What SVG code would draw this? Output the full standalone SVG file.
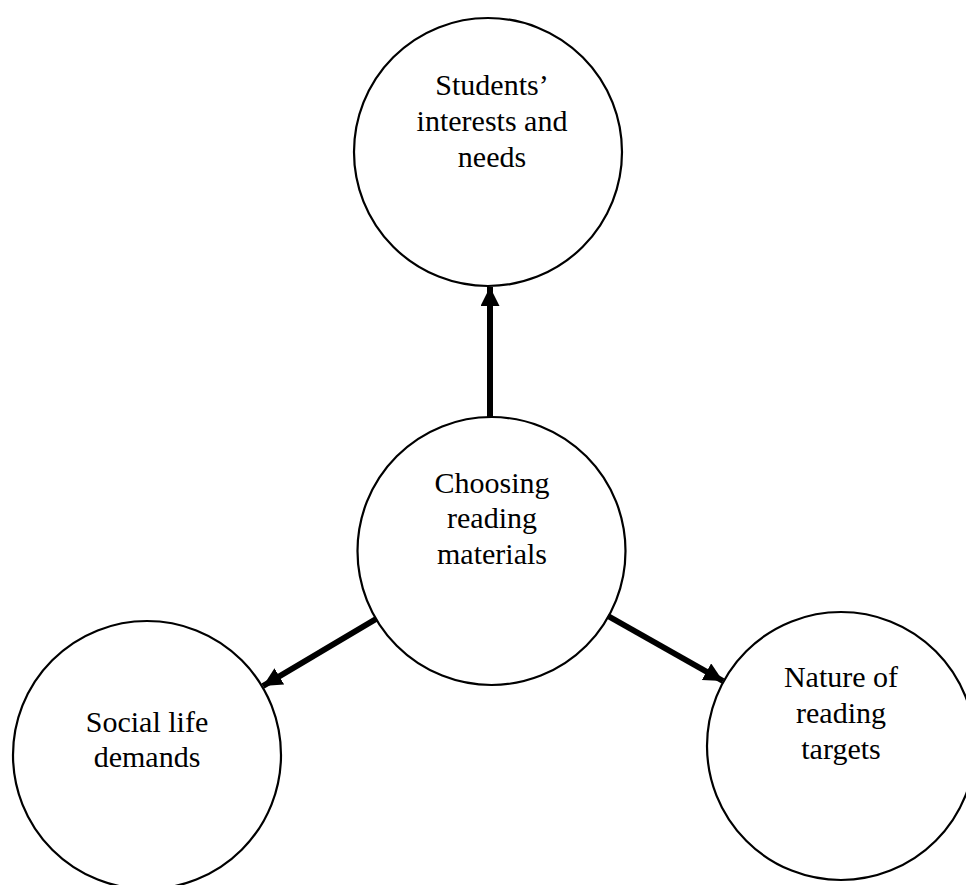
<svg xmlns="http://www.w3.org/2000/svg" width="966" height="885" viewBox="0 0 966 885">
  <style>
    .node circle { fill: #ffffff; stroke: #000000; stroke-width: 2.2; }
    .node text { font-family: "Liberation Serif", "Times New Roman", serif; font-size: 30px; fill: #000000; text-anchor: middle; }
    .conn line { stroke: #000000; stroke-width: 6; }
  </style>
  <defs>
    <marker id="arrow" markerUnits="userSpaceOnUse" markerWidth="22" markerHeight="20" refX="19" refY="9.5" orient="auto">
      <path d="M0,0 L19,9.5 L0,19 Z" fill="#000000"/>
    </marker>
  </defs>
  <rect width="966" height="885" fill="#ffffff"/>
  <g id="n-top" class="node">
    <circle cx="488" cy="152" r="134"/>
    <text x="492" y="95">Students’</text>
    <text x="492" y="131">interests and</text>
    <text x="492" y="167">needs</text>
  </g>
  <g id="n-center" class="node">
    <circle cx="491.5" cy="551" r="134"/>
    <text x="492" y="493">Choosing</text>
    <text x="492" y="528">reading</text>
    <text x="492" y="564">materials</text>
  </g>
  <g id="n-left" class="node">
    <circle cx="147" cy="755" r="134"/>
    <text x="147" y="732">Social life</text>
    <text x="147" y="767">demands</text>
  </g>
  <g id="n-right" class="node">
    <circle cx="841" cy="746" r="134"/>
    <text x="841" y="687">Nature of</text>
    <text x="841" y="723">reading</text>
    <text x="841" y="759">targets</text>
  </g>
  <g id="connectors" class="conn">
    <line x1="490" y1="417" x2="490" y2="287" marker-end="url(#arrow)"/>
    <line x1="376" y1="619" x2="263" y2="686" marker-end="url(#arrow)"/>
    <line x1="608" y1="616" x2="723" y2="681" marker-end="url(#arrow)"/>
  </g>
</svg>
